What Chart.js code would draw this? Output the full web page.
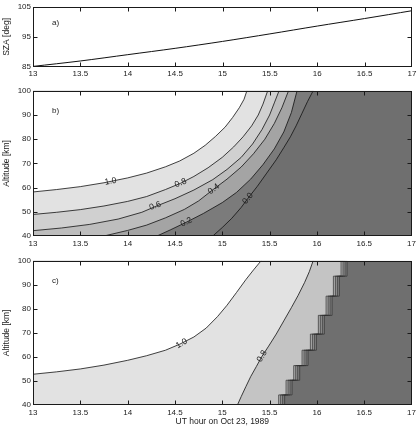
<!DOCTYPE html>
<html><head><meta charset="utf-8">
<script src="https://cdn.jsdelivr.net/npm/chart.js@4"></script>
<style>
html,body{margin:0;padding:0;background:#fff;}
body{width:419px;height:427px;position:relative;overflow:hidden;}
.p{position:absolute;left:0;width:419px;}
</style></head><body>
<div class="p" style="top:0;height:87px"><canvas id="ca"></canvas></div>
<div class="p" style="top:84px;height:172px"><canvas id="cb"></canvas></div>
<div class="p" style="top:254px;height:173px"><canvas id="cc"></canvas></div>
<script>
// ---------- data ----------
const hoursA = [13, 13.5, 14, 14.5, 15, 15.5, 16, 16.5, 17];
const szaA   = [85.2, 87.0, 89.1, 91.2, 93.5, 96.0, 98.6, 101.1, 103.7];

// panel b contour lines [hour, altitude]
const b10 = [[13,58.2],[13.25,59.2],[13.5,60.4],[13.75,62.0],[14.0,64.0],[14.2,66.0],[14.4,68.6],[14.55,71.0],[14.7,74.2],[14.82,77.5],[14.93,81.2],[15.03,85],[15.11,89],[15.18,93],[15.23,96.5],[15.26,100]];
const b08 = [[13,48.9],[13.25,49.8],[13.5,50.9],[13.75,52.4],[14.0,54.3],[14.2,56.3],[14.4,59.2],[14.56,61.8],[14.7,64.6],[14.85,68.2],[15.0,72.5],[15.12,76.8],[15.22,81],[15.31,85.5],[15.38,90],[15.43,94.5],[15.48,100]];
const b06 = [[13,42.2],[13.3,43.3],[13.6,44.8],[13.9,47],[14.15,49.8],[14.3,52.3],[14.5,55.4],[14.7,59],[14.9,63.3],[15.05,67.5],[15.2,72.5],[15.32,78],[15.42,84],[15.5,90],[15.55,95],[15.6,100]];
const b04 = [[13.75,40],[14.0,42.3],[14.2,44.5],[14.4,47.5],[14.6,51],[14.75,54.5],[14.91,59.4],[15.05,63.5],[15.2,68.5],[15.33,74],[15.45,80],[15.55,86.5],[15.63,93],[15.7,100]];
const b02 = [[14.31,40],[14.45,42.5],[14.62,45.7],[14.8,49.3],[15.0,53.8],[15.15,58],[15.3,63.5],[15.43,69.5],[15.55,76],[15.65,83],[15.73,91],[15.79,100]];
const b00 = [[14.9,40],[15.0,43.5],[15.1,47.3],[15.2,51.8],[15.27,55.5],[15.37,60.5],[15.47,66],[15.57,71.5],[15.65,76.5],[15.72,81],[15.78,85.5],[15.84,90.5],[15.9,95.5],[15.96,100]];

// panel c contour lines
const c10 = [[13,52.8],[13.25,53.8],[13.5,55.0],[13.75,56.6],[14.0,58.6],[14.2,60.5],[14.4,62.8],[14.55,65.3],[14.7,68.3],[14.83,72],[14.95,76.8],[15.05,81.5],[15.15,86.8],[15.25,92.2],[15.33,96.2],[15.41,100]];
const c08 = [[15.16,40],[15.2,43.5],[15.25,47.7],[15.3,51.8],[15.36,56],[15.42,60.3],[15.49,64.5],[15.57,69.5],[15.65,75],[15.73,80.5],[15.8,85.5],[15.87,91],[15.92,95.5],[15.96,100]];
// staircase front: left hour of each step, altitude bottom/top of each step
const stairX   = [15.596, 15.674, 15.755, 15.843, 15.931, 16.015, 16.097, 16.174, 16.255];
const stairBot = [40, 44.2, 50.3, 56.4, 62.8, 69.5, 77.3, 85.3, 93.6];
const stairTop = [44.2, 50.3, 56.4, 62.8, 69.5, 77.3, 85.3, 93.6, 100];

// contour labels [text, hour, altitude, angle]
const labelsB = [['1.0',13.82,62.6,-11],['0.8',14.56,61.9,-23],['0.6',14.29,52.4,-18],['0.4',14.91,59.4,-36],['0.2',14.62,45.7,-25],['0.0',15.27,55.5,-52]];
const labelsC = [['1.0',14.57,65.6,-30],['0.8',15.42,60.3,-60]];

// ---------- helpers ----------
const FONT = '"Liberation Sans", Arial, sans-serif';
const TXT = '#222';
const pts = a => a.map(([x, y]) => ({x, y}));
function poly(points, color, order) {
  return {data: pts(points), fill: 'shape', backgroundColor: color, borderColor: 'transparent', borderWidth: 0, pointRadius: 0, tension: 0, order};
}
function ln(points, color, width, order) {
  return {data: pts(points), fill: false, borderColor: color, borderWidth: width, pointRadius: 0, tension: 0, order};
}
const leftOf = (curve, startsOnLeft) => startsOnLeft ? curve.concat([[13, 100]]) : curve.concat([[13, 100], [13, 40]]);
const full = [[13,40],[17,40],[17,100],[13,100]];

function stairs(dx) {
  const out = [];
  for (let i = 0; i < stairX.length; i++) {
    out.push([stairX[i] + dx, stairBot[i]]);
    out.push([stairX[i] + dx, stairTop[i]]);
  }
  return out;
}
const fmt = v => String(Math.round(v * 10) / 10);
const clamp = (v, lo, hi) => Math.min(hi, Math.max(lo, v));

const framePlugin = {
  id: 'frame',
  afterDatasetsDraw(chart, args, opts) {
    const {ctx, chartArea: a, scales: {x, y}} = chart;
    const L = Math.round(a.left) + 0.5, R = Math.round(a.right) - 0.5;
    const T = Math.round(a.top) + 0.5, B = Math.round(a.bottom) - 0.5;
    ctx.save();
    ctx.strokeStyle = '#1a1a1a'; ctx.lineWidth = 1;
    ctx.strokeRect(L, T, R - L, B - T);
    ctx.beginPath();
    const tl = 4;
    x.ticks.forEach(t => {
      const px = clamp(Math.round(x.getPixelForValue(t.value)) + 0.5, L, R);
      ctx.moveTo(px, B); ctx.lineTo(px, B - tl);
      ctx.moveTo(px, T); ctx.lineTo(px, T + tl);
    });
    y.ticks.forEach(t => {
      const py = clamp(Math.round(y.getPixelForValue(t.value)) + 0.5, T, B);
      ctx.moveTo(L, py); ctx.lineTo(L + tl, py);
      ctx.moveTo(R, py); ctx.lineTo(R - tl, py);
    });
    ctx.stroke();
    ctx.fillStyle = TXT;
    ctx.font = '8px ' + FONT;
    ctx.textAlign = 'left'; ctx.textBaseline = 'middle';
    if (opts.panel) {
      ctx.fillText(opts.panel[0], x.getPixelForValue(opts.panel[1]), y.getPixelForValue(opts.panel[2]));
    }
    ctx.textAlign = 'center';
    ctx.font = '8.5px ' + FONT;
    (opts.labels || []).forEach(([t, hx, hy, ang]) => {
      ctx.save();
      ctx.translate(x.getPixelForValue(hx), y.getPixelForValue(hy));
      ctx.rotate(ang * Math.PI / 180);
      ctx.fillText(t, 0, 0);
      ctx.restore();
    });
    ctx.restore();
  }
};

function makeChart(id, datasets, cfg) {
  return new Chart(document.getElementById(id), {
    type: 'line',
    data: {datasets},
    options: {
      responsive: true, maintainAspectRatio: false, animation: false, events: [],
      layout: {padding: {left: 0, right: 7, top: 6, bottom: 0}},
      plugins: {legend: {display: false}, tooltip: {enabled: false}, frame: cfg.frame},
      scales: {
        x: {
          type: 'linear', min: 13, max: 17,
          ticks: {stepSize: 0.5, padding: cfg.xPad, color: TXT, font: {family: FONT, size: 8}, maxRotation: 0, autoSkip: false, callback: fmt},
          grid: {display: false, drawTicks: false}, border: {display: false},
          title: cfg.xTitle ? {display: true, text: cfg.xTitle, color: TXT, font: {family: FONT, size: 8.5}, padding: {top: 0, bottom: 0}} : {display: false},
          afterFit: s => { s.height = cfg.xH; }
        },
        y: {
          type: 'linear', min: cfg.yMin, max: cfg.yMax,
          ticks: {stepSize: cfg.yStep, padding: 2, color: TXT, font: {family: FONT, size: 8}, callback: fmt},
          grid: {display: false, drawTicks: false}, border: {display: false},
          title: {display: true, text: cfg.yTitle, color: TXT, font: {family: FONT, size: 8.5}, padding: {top: 2, bottom: 0}},
          afterFit: s => { s.width = 33; }
        }
      }
    },
    plugins: [framePlugin]
  });
}

// ---------- panel a ----------
makeChart('ca', [
  {data: hoursA.map((h, i) => ({x: h, y: szaA[i]})), borderColor: '#111', borderWidth: 1, pointRadius: 0, fill: false, tension: 0.3}
], {yMin: 85, yMax: 105, yStep: 10, yTitle: 'SZA [deg]', xH: 20, xPad: 2, frame: {panel: ['a)', 13.2, 99.7]}});

// ---------- panel b ----------
makeChart('cb', [
  ln(b10, '#111', 0.8, 0), ln(b08, '#111', 0.8, 0), ln(b06, '#111', 0.8, 0),
  ln(b04, '#111', 0.8, 0), ln(b02, '#111', 0.8, 0), ln(b00, '#111', 0.8, 0),
  poly(leftOf(b10, true), '#ffffff', 1),
  poly(leftOf(b08, true), '#e2e2e2', 2),
  poly(leftOf(b06, true), '#d0d0d0', 3),
  poly(leftOf(b04, false), '#bdbdbd', 4),
  poly(leftOf(b02, false), '#a4a4a4', 5),
  poly(leftOf(b00, false), '#7b7b7b', 6),
  poly(full, '#6f6f6f', 7)
], {yMin: 40, yMax: 100, yStep: 10, yTitle: 'Altitude [km]', xH: 20, xPad: 3, frame: {panel: ['b)', 13.2, 91.6], labels: labelsB}});

// ---------- panel c ----------
const stairOffsets = [0, 0.021, 0.042, 0.063];
const stairFills = ['#c4c4c4', '#aeaeae', '#979797', '#808080'];
const stairLines = stairOffsets.map(dx => ln(stairs(dx), '#2e2e2e', 0.7, 0));
const stairPolys = stairOffsets.map((dx, i) => poly(leftOf(stairs(dx), false), stairFills[i], 3 + i));
makeChart('cc', [
  ln(c10, '#111', 0.8, 0), ln(c08, '#111', 0.8, 0), ...stairLines,
  poly(leftOf(c10, true), '#ffffff', 1),
  poly(leftOf(c08, false), '#e2e2e2', 2),
  ...stairPolys,
  poly(full, '#6f6f6f', 10)
], {yMin: 40, yMax: 100, yStep: 10, yTitle: 'Altitude [km]', xTitle: 'UT hour on Oct 23, 1989', xH: 22, xPad: 3, frame: {panel: ['c)', 13.2, 91.8], labels: labelsC}});
</script>
</body></html>
